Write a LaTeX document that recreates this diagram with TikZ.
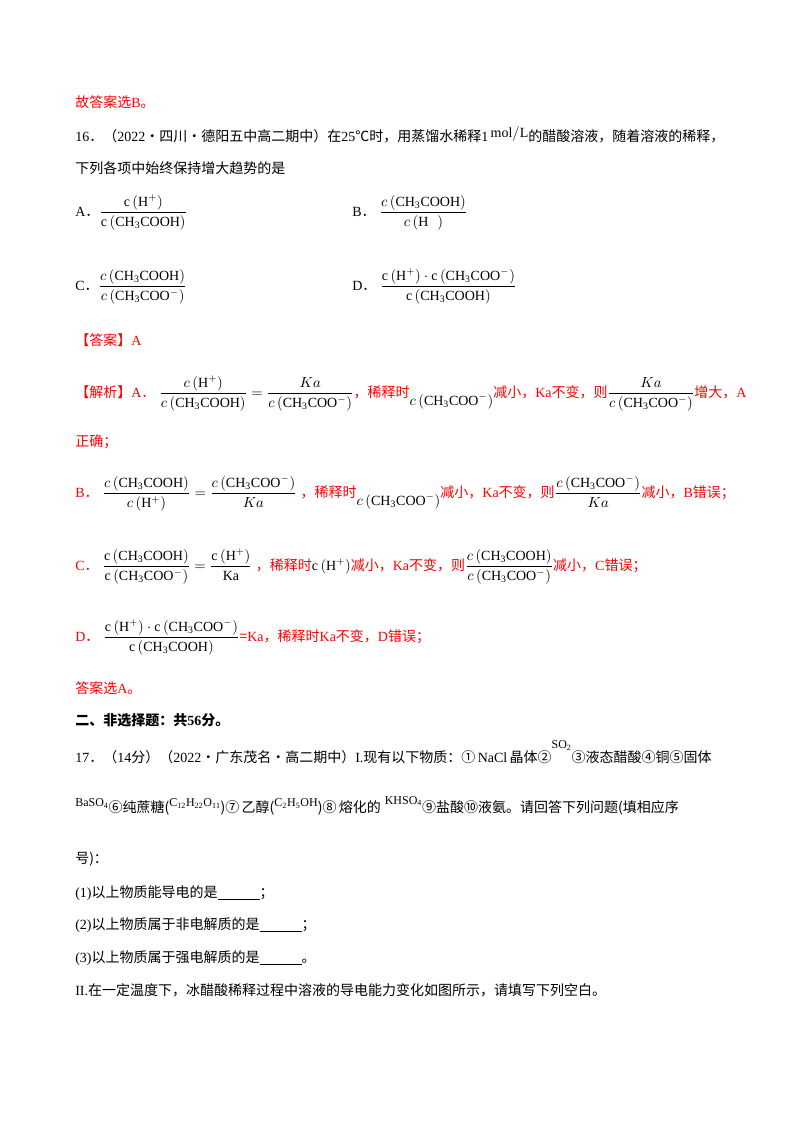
\documentclass[tikz,border=0pt]{standalone}
\usepackage{amsmath}
\usepackage{fontspec}
\setmainfont{Noto Sans CJK SC}
\setmathrm{Liberation Serif}
\newfontfamily\lat{Liberation Serif}
\newcommand{\ch}[1]{\mathrm{#1}}
\newcommand{\cc}[1]{\mathrm{c}\left(\mathrm{#1}\right)}
\newcommand{\up}[2]{\raisebox{#1}{\small$\ch{#2}$}}
\newcommand{\bk}[1]{{\color{black}#1}}
\begin{document}
\begin{tikzpicture}[x=0.75pt,y=-0.75pt,
  t/.style={anchor=base west,inner sep=0pt,font=\fontsize{10.5pt}{12pt}\selectfont},
  r/.style={t,text=red}]
\useasboundingbox (0,0) rectangle (800,1132);
\fill[white] (0,0) rectangle (800,1132);
\node[r] (l1) at (75,107) {故答案选{\lat B}。};
\node[t] (l2) at (75,141) {{\lat 16}．（{\lat 2022}·四川·德阳五中高二期中）在{\lat 25}℃时，用蒸馏水稀释{\lat 1}\raisebox{3pt}{$\,\ch{mol/L}$}的醋酸溶液，随着溶液的稀释，};
\node[t] (l3) at (75,173) {下列各项中始终保持增大趋势的是};
\node[t] (oa) at (75,216) {{\lat A}．$\dfrac{\cc{H^+}}{\cc{CH_3COOH}}$};
\node[t] (ob) at (352,216) {{\lat B}．\;$\dfrac{c\left(\ch{CH_3COOH}\right)}{c\left(\ch{H^{\phantom{+}}}\right)}$};
\node[t] (oc) at (75,290) {{\lat C}．$\dfrac{c\left(\ch{CH_3COOH}\right)}{c\left(\ch{CH_3COO^-}\right)}$};
\node[t] (od) at (352,290) {{\lat D}．\;$\dfrac{\cc{H^+}\cdot\cc{CH_3COO^-}}{\cc{CH_3COOH}}$};
\node[r] (ans) at (75,345) {【答案】{\lat A}};
\node[r] (a1) at (75,397) {【解析】{\lat A}．\;\bk{$\dfrac{c\left(\ch{H^+}\right)}{c\left(\ch{CH_3COOH}\right)}=\dfrac{Ka}{c\left(\ch{CH_3COO^-}\right)}$}，稀释时\raisebox{-6pt}{\bk{$c\left(\ch{CH_3COO^-}\right)$}}减小，{\lat Ka}不变，则\bk{$\dfrac{Ka}{c\left(\ch{CH_3COO^-}\right)}$}增大，{\lat A}};
\node[r] (a2) at (75,446) {正确；};
\node[r] (b1) at (75,497) {{\lat B}．\;\bk{$\dfrac{c\left(\ch{CH_3COOH}\right)}{c\left(\ch{H^+}\right)}=\dfrac{c\left(\ch{CH_3COO^-}\right)}{Ka}$}\;，稀释时\raisebox{-6pt}{\bk{$c\left(\ch{CH_3COO^-}\right)$}}减小，{\lat Ka}不变，则\bk{$\dfrac{c\left(\ch{CH_3COO^-}\right)}{Ka}$}减小，{\lat B}错误；};
\node[r] (c1) at (75,570) {{\lat C}．\;\bk{$\dfrac{\cc{CH_3COOH}}{\cc{CH_3COO^-}}=\dfrac{\cc{H^+}}{\ch{Ka}}$}\;，稀释时\bk{$\cc{H^+}$}减小，{\lat Ka}不变，则\bk{$\dfrac{c\left(\ch{CH_3COOH}\right)}{c\left(\ch{CH_3COO^-}\right)}$}减小，{\lat C}错误；};
\node[r] (d1) at (75,641) {{\lat D}．\;\bk{$\dfrac{\cc{H^+}\cdot\cc{CH_3COO^-}}{\cc{CH_3COOH}}$}={\lat Ka}，稀释时{\lat Ka}不变，{\lat D}错误；};
\node[r] (e1) at (75,693) {答案选{\lat A}。};
\node[t,font=\fontsize{10.5pt}{12pt}\selectfont\bfseries] (s2) at (75,725) {二、非选择题：共{\lat\bfseries 56}分。};
\node[t] (q17) at (75,762) {{\lat 17}．（{\lat 14}分）（{\lat 2022}·广东茂名·高二期中）{\lat I.}现有以下物质：①\,{\lat NaCl}\,晶体②\up{10pt}{SO_2}③液态醋酸④铜⑤固体};
\node[t] (q17b) at (75,812) {\up{4pt}{BaSO_4}⑥纯蔗糖(\up{4pt}{C_{12}H_{22}O_{11}})⑦\,乙醇(\up{4pt}{C_2H_5OH})⑧\,熔化的\;\up{6pt}{KHSO_4}⑨盐酸⑩液氨。请回答下列问题(填相应序};
\node[t] (q17c) at (75,863) {号)：};
\node[t] (q1) at (75,897) {{\lat (1)}以上物质能导电的是\underline{\hspace{3em}}；};
\node[t] (q2) at (75,929) {{\lat (2)}以上物质属于非电解质的是\underline{\hspace{3em}}；};
\node[t] (q3) at (75,962) {{\lat (3)}以上物质属于强电解质的是\underline{\hspace{3em}}。};
\node[t] (q4) at (75,995) {{\lat II.}在一定温度下，冰醋酸稀释过程中溶液的导电能力变化如图所示，请填写下列空白。};
\end{tikzpicture}
\end{document}
